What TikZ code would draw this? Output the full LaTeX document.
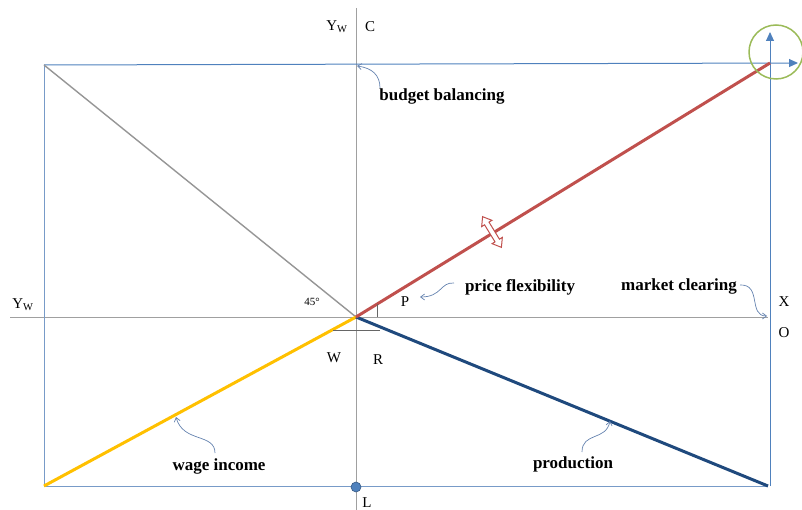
\documentclass[tikz,border=0pt]{standalone}
\usepackage{fontspec}
\setmainfont{Liberation Serif}
\usetikzlibrary{arrows.meta}
\definecolor{axisgray}{RGB}{160,160,160}
\definecolor{frameblue}{RGB}{120,155,200}
\definecolor{offblue}{RGB}{79,129,189}
\definecolor{offred}{RGB}{192,80,77}
\definecolor{offyellow}{RGB}{255,192,0}
\definecolor{offnavy}{RGB}{31,73,125}
\definecolor{offgreen}{RGB}{155,187,89}
\definecolor{linegray}{RGB}{150,150,150}
\definecolor{curlblue}{RGB}{100,130,175}
\tikzset{
  axis/.style={draw=axisgray, line width=0.9pt},
  frame/.style={draw=frameblue, line width=1pt},
  curl/.style={draw=curlblue, line width=0.7pt, -{Straight Barb[length=4pt,width=6pt]}},
  lbl/.style={font=\fontsize{17}{20}\selectfont\bfseries, inner sep=0pt},
  let/.style={font=\fontsize{15}{18}\selectfont, inner sep=0pt},
}
\begin{document}
\begin{tikzpicture}[x=1pt,y=-1pt]
\useasboundingbox (0,0) rectangle (802,510);
% key coordinates
\coordinate (O) at (356,317);
\coordinate (TL) at (44,65);
\coordinate (BL) at (44,486);
\coordinate (BR) at (768,486);
\coordinate (TR) at (770,63);
\coordinate (AxTop) at (356,8);
\coordinate (AxBot) at (356,510);
\coordinate (AxLeft) at (10,317);
\coordinate (AxRight) at (768,317);
\coordinate (TopEnd) at (798,63);
\coordinate (RightEnd) at (770,32);
\coordinate (RightBot) at (770,486);
% axes
\draw[axis] (AxTop) -- (AxBot);
\draw[axis] (AxLeft) -- (AxRight);
% frame
\draw[frame] (TL) -- (BL) -- (BR);
\draw[frame, -{Triangle[length=9pt,width=8pt]}, draw=offblue] (TL) -- (TopEnd);
\draw[frame, -{Triangle[length=9pt,width=8pt]}, draw=offblue] (RightBot) -- (RightEnd);
\fill[offblue] (TopEnd) ++(0,0) coordinate (dummy);
% diagonal lines
\draw[draw=linegray, line width=1.4pt] (TL) -- (O);
\draw[draw=offyellow, line width=3pt] (BL) -- (O);
\draw[draw=offnavy, line width=3pt] (O) -- (BR);
\draw[draw=offred, line width=3pt] (O) -- (TR);
% small marks
\coordinate (Wm) at (333,330);
\coordinate (Rm) at (380,330);
\draw[draw=black!60, line width=0.8pt] (Wm) -- (Rm);
\coordinate (Ptop) at (377,304);
\coordinate (Pbot) at (377,317);
\draw[draw=black!60, line width=0.8pt] (Ptop) -- (Pbot);
% green circle
\node[draw=offgreen, line width=1.5pt, circle, minimum size=54pt, inner sep=0pt] (gc) at (776,52) {};
% double hollow arrow
\begin{scope}[shift={(492,232)}, rotate=-58.5]
\draw[draw=offred, fill=white, line width=1pt, line join=miter]
  (18,0) -- (10,6) -- (10,2.6) -- (-10,2.6) -- (-10,6) -- (-18,0)
  -- (-10,-6) -- (-10,-2.6) -- (10,-2.6) -- (10,-6) -- cycle;
\end{scope}
% dot L
\node[circle, fill=offblue, draw=offblue!70!black, line width=0.6pt, minimum size=10pt, inner sep=0pt] (Ldot) at (356,487) {};
% letters
\node[let] (YwTop) at (337,27) {Y\textsubscript{W}};
\node[let] (Clab) at (370,27) {C};
\node[let] (YwLeft) at (23,305) {Y\textsubscript{W}};
\node[let] (Xlab) at (784,302) {X};
\node[let] (Olab) at (784,333) {O};
\node[let] (Plab) at (405,302) {P};
\node[let] (Wlab) at (334,358) {W};
\node[let] (Rlab) at (378,360) {R};
\node[let] (Llab) at (367,503) {L};
\node[font=\fontsize{11}{13}\selectfont, inner sep=0pt] (ang) at (312,302) {45\textdegree};
% bold labels
\node[lbl] (bb) at (442,96) {budget balancing};
\node[lbl] (pf) at (520,287) {price flexibility};
\node[lbl] (mc) at (679,286) {market clearing};
\node[lbl] (wi) at (219,466) {wage income};
\node[lbl] (pr) at (573,464) {production};
% curly arrows
\coordinate (bbS) at (380,88);  \coordinate (bbE) at (357,66);
\draw[curl] (bbS) .. controls (380,75) and (372,68) .. (bbE);
\coordinate (pfS) at (454,283); \coordinate (pfE) at (420,297);
\draw[curl] (pfS) .. controls (440,282) and (442,297) .. (pfE);
\coordinate (mcS) at (740,285); \coordinate (mcE) at (767,316);
\draw[curl] (mcS) .. controls (762,284) and (748,316) .. (mcE);
\coordinate (wiS) at (215,453); \coordinate (wiE) at (176,417);
\draw[curl] (wiS) .. controls (215,433) and (183,443) .. (wiE);
\coordinate (prS) at (582,452); \coordinate (prE) at (610,421);
\draw[curl] (prS) .. controls (582,432) and (606,441) .. (prE);
\end{tikzpicture}
\end{document}
